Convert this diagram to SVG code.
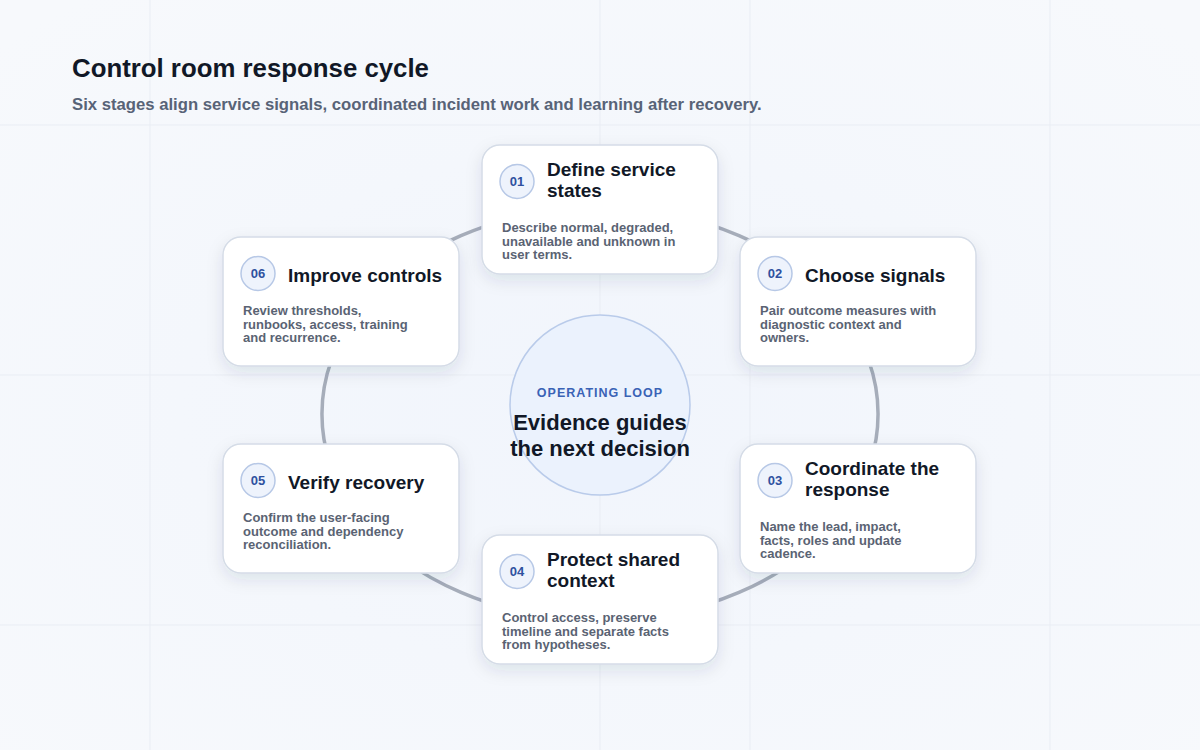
<svg xmlns="http://www.w3.org/2000/svg" width="1200" height="750" viewBox="0 0 1200 750">
<defs>
<style>
.title{font-family:"Liberation Sans",Arial,sans-serif;font-weight:700;font-size:25.8px;fill:#111827}
.sub{font-family:"Liberation Sans",Arial,sans-serif;font-weight:700;font-size:16.7px;fill:#586377}
.card{fill:#ffffff;stroke:#d5dce7;stroke-width:1.5}
.badge{fill:#eef3fc;stroke:#b7c8e6;stroke-width:1.5}
.num{font-family:"Liberation Sans",Arial,sans-serif;font-weight:700;font-size:13px;fill:#2f519f;text-anchor:middle}
.nt{font-family:"Liberation Sans",Arial,sans-serif;font-weight:700;font-size:19px;fill:#111827}
.nd{font-family:"Liberation Sans",Arial,sans-serif;font-weight:700;font-size:13px;fill:#5a6373}
.ring{fill:none;stroke:#a6adba;stroke-width:3.5;stroke-linecap:round}
.grid{stroke:#e9edf4;stroke-width:1}
</style>
<filter id="sh" x="-20%" y="-20%" width="140%" height="150%">
<feDropShadow dx="0" dy="6" stdDeviation="8" flood-color="#1e2a44" flood-opacity="0.10"/>
</filter>
<radialGradient id="bg" cx="50%" cy="55%" r="70%">
<stop offset="0" stop-color="#f1f5fc"/>
<stop offset="1" stop-color="#f7f9fc"/>
</radialGradient>
</defs>
<rect width="1200" height="750" fill="url(#bg)"/>
<g id="grid">
<line class="grid" x1="150" y1="0" x2="150" y2="750"/>
<line class="grid" x1="600" y1="0" x2="600" y2="750"/>
<line class="grid" x1="750" y1="0" x2="750" y2="750"/>
<line class="grid" x1="1050" y1="0" x2="1050" y2="750"/>
<line class="grid" x1="0" y1="125" x2="1200" y2="125"/>
<line class="grid" x1="0" y1="375" x2="1200" y2="375"/>
<line class="grid" x1="0" y1="625" x2="1200" y2="625"/>
</g>
<g id="header">
<text class="title" x="72" y="77">Control room response cycle</text>
<text class="sub" x="72" y="110">Six stages align service signals, coordinated incident work and learning after recovery.</text>
</g>
<g id="connectors">
<path class="ring" d="M600,208 A278,206 0 0 1 840.8,311"/>
<path class="ring" d="M840.8,311 A278,206 0 0 1 840.8,517"/>
<path class="ring" d="M840.8,517 A278,206 0 0 1 600,620"/>
<path class="ring" d="M600,620 A278,206 0 0 1 359.2,517"/>
<path class="ring" d="M359.2,517 A278,206 0 0 1 359.2,311"/>
<path class="ring" d="M359.2,311 A278,206 0 0 1 600,208"/>
</g>
<g id="center">
<circle cx="600" cy="405" r="90" fill="#ebf2fd" stroke="#b9cbea" stroke-width="1.5"/>
<text x="600" y="397" text-anchor="middle" font-family="Liberation Sans,Arial,sans-serif" font-weight="700" font-size="12.5" letter-spacing="1" fill="#3a63b6">OPERATING LOOP</text>
<text x="600" y="430" text-anchor="middle" font-family="Liberation Sans,Arial,sans-serif" font-weight="700" font-size="22" fill="#111827">Evidence guides</text>
<text x="600" y="456" text-anchor="middle" font-family="Liberation Sans,Arial,sans-serif" font-weight="700" font-size="22" fill="#111827">the next decision</text>
</g>
<g id="node01" transform="translate(482,145)">
<rect class="card" width="236" height="129" rx="18" filter="url(#sh)"/>
<circle class="badge" cx="35" cy="36.5" r="17"/>
<text class="num" x="35" y="41">01</text>
<text class="nt" x="65" y="31">Define service</text>
<text class="nt" x="65" y="52">states</text>
<text class="nd" x="20" y="87">Describe normal, degraded,</text>
<text class="nd" x="20" y="100.5">unavailable and unknown in</text>
<text class="nd" x="20" y="114">user terms.</text>
</g>
<g id="node02" transform="translate(740,237)">
<rect class="card" width="236" height="129" rx="18" filter="url(#sh)"/>
<circle class="badge" cx="35" cy="36.5" r="17"/>
<text class="num" x="35" y="41">02</text>
<text class="nt" x="65" y="45">Choose signals</text>
<text class="nd" x="20" y="78">Pair outcome measures with</text>
<text class="nd" x="20" y="91.5">diagnostic context and</text>
<text class="nd" x="20" y="105">owners.</text>
</g>
<g id="node03" transform="translate(740,444)">
<rect class="card" width="236" height="129" rx="18" filter="url(#sh)"/>
<circle class="badge" cx="35" cy="36.5" r="17"/>
<text class="num" x="35" y="41">03</text>
<text class="nt" x="65" y="31">Coordinate the</text>
<text class="nt" x="65" y="52">response</text>
<text class="nd" x="20" y="87">Name the lead, impact,</text>
<text class="nd" x="20" y="100.5">facts, roles and update</text>
<text class="nd" x="20" y="114">cadence.</text>
</g>
<g id="node04" transform="translate(482,535)">
<rect class="card" width="236" height="129" rx="18" filter="url(#sh)"/>
<circle class="badge" cx="35" cy="36.5" r="17"/>
<text class="num" x="35" y="41">04</text>
<text class="nt" x="65" y="31">Protect shared</text>
<text class="nt" x="65" y="52">context</text>
<text class="nd" x="20" y="87">Control access, preserve</text>
<text class="nd" x="20" y="100.5">timeline and separate facts</text>
<text class="nd" x="20" y="114">from hypotheses.</text>
</g>
<g id="node05" transform="translate(223,444)">
<rect class="card" width="236" height="129" rx="18" filter="url(#sh)"/>
<circle class="badge" cx="35" cy="36.5" r="17"/>
<text class="num" x="35" y="41">05</text>
<text class="nt" x="65" y="45">Verify recovery</text>
<text class="nd" x="20" y="78">Confirm the user-facing</text>
<text class="nd" x="20" y="91.5">outcome and dependency</text>
<text class="nd" x="20" y="105">reconciliation.</text>
</g>
<g id="node06" transform="translate(223,237)">
<rect class="card" width="236" height="129" rx="18" filter="url(#sh)"/>
<circle class="badge" cx="35" cy="36.5" r="17"/>
<text class="num" x="35" y="41">06</text>
<text class="nt" x="65" y="45">Improve controls</text>
<text class="nd" x="20" y="78">Review thresholds,</text>
<text class="nd" x="20" y="91.5">runbooks, access, training</text>
<text class="nd" x="20" y="105">and recurrence.</text>
</g>
</svg>
